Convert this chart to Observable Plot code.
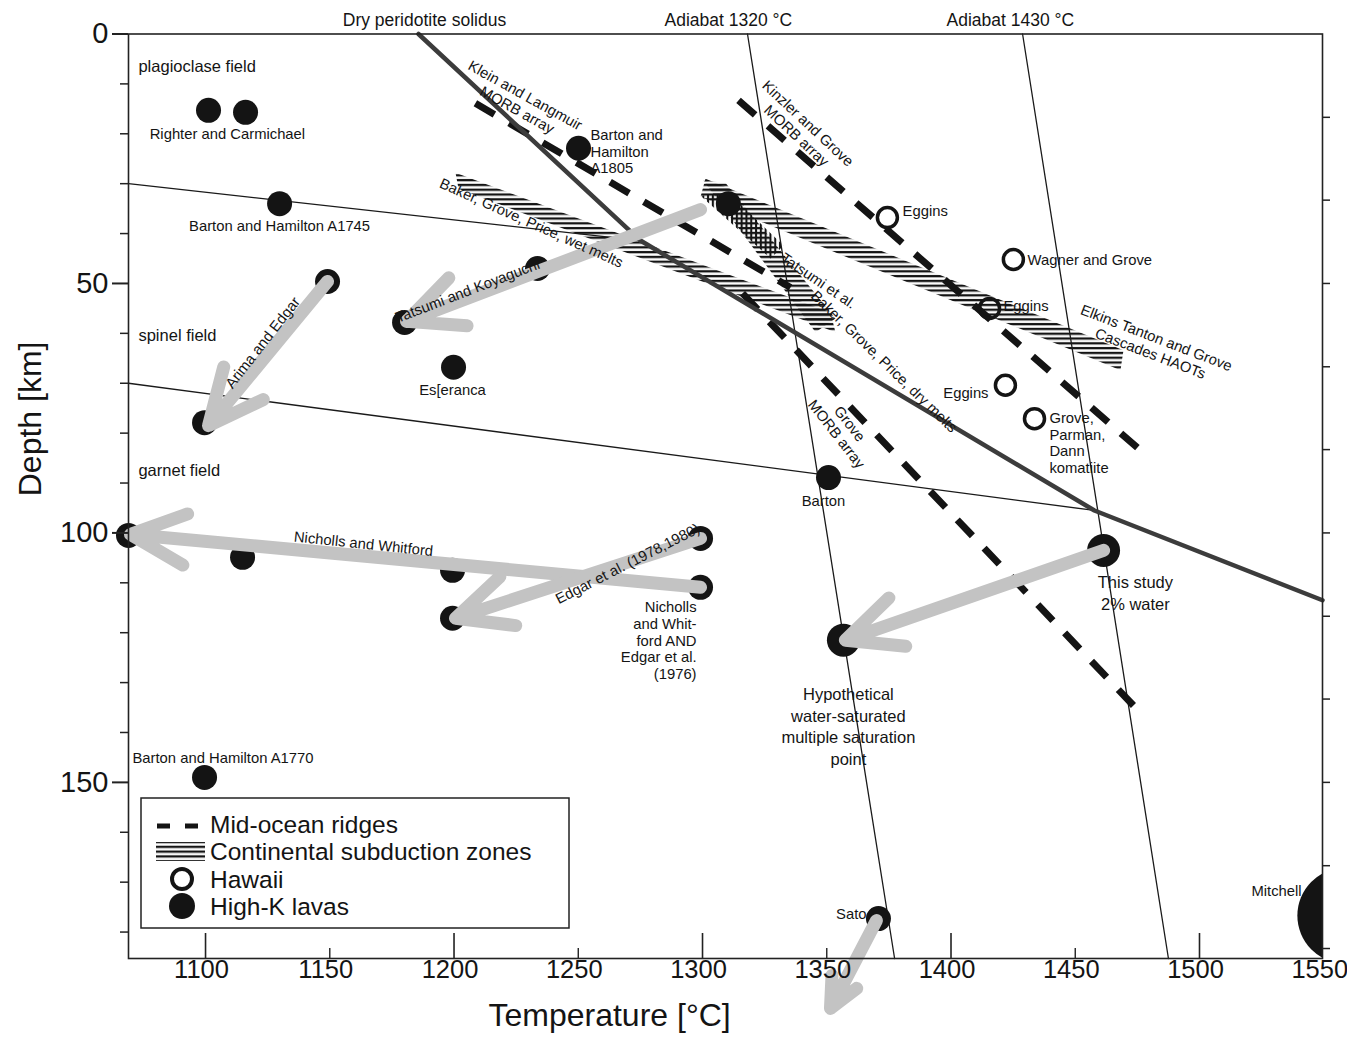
<!DOCTYPE html>
<html><head><meta charset="utf-8">
<script src="https://cdn.jsdelivr.net/npm/d3@7"></script>
<script src="https://cdn.jsdelivr.net/npm/@observablehq/plot@0.6"></script>
<style>body{margin:0;background:#fff} svg{display:block}</style>
</head><body><div id="chart"></div>
<script>
// ---------- DATA (temperature °C, depth km) ----------
const xMajorTicks = [1100, 1200, 1300, 1400, 1500];
const xMinorTicks = [1150, 1250, 1350, 1450];
const xTickLabels = [1100, 1150, 1200, 1250, 1300, 1350, 1400, 1450, 1500, 1550];
const yTickLabels = [0, 50, 100, 150];
const yMinorTicks = [10, 20, 30, 40, 60, 70, 80, 90, 110, 120, 130, 140, 160, 170, 180];
const rightTicks = [16.7, 33.3, 50, 66.7, 83.3, 100, 116.7, 133.3, 150, 166.7, 183.3];

const solidus = [
  {T: 1185.7, D: 0}, {T: 1275.0, D: 41.4}, {T: 1457.7, D: 95.5}, {T: 1549.5, D: 113.5}
];
const thinLines = [
  {id: "plag-spinel", T: 1069.0, D: 30.0}, {id: "plag-spinel", T: 1275.0, D: 41.4},
  {id: "spinel-garnet", T: 1069.0, D: 70.0}, {id: "spinel-garnet", T: 1457.7, D: 95.5},
  {id: "adiabat1320", T: 1318.1, D: 0}, {id: "adiabat1320", T: 1377.3, D: 185.3},
  {id: "adiabat1430", T: 1428.8, D: 0}, {id: "adiabat1430", T: 1487.5, D: 185.3}
];
const morbArrays = [
  {name: "Klein and Langmuir", T1: 1208.6, D1: 13.9, T2: 1335.4, D2: 50.8},
  {name: "Grove", T1: 1316.1, D1: 52.0, T2: 1474.2, D2: 135.0},
  {name: "Kinzler and Grove", T1: 1314.5, D1: 13.3, T2: 1475.0, D2: 82.9}
];
const subductionBands = [
  {band: "wet", T: 1200.6, D: 27.8}, {band: "wet", T: 1351.5, D: 55.8},
  {band: "wet", T: 1353.5, D: 59.8}, {band: "wet", T: 1201.8, D: 31.0},
  {band: "elkins", T: 1301.2, D: 29.0}, {band: "elkins", T: 1469.4, D: 63.4},
  {band: "elkins", T: 1468.2, D: 67.4}, {band: "elkins", T: 1299.2, D: 32.6},
  {band: "dry", T: 1300.4, D: 29.4}, {band: "dry", T: 1309.2, D: 29.8},
  {band: "dry", T: 1353.5, D: 57.0}, {band: "dry", T: 1345.5, D: 59.8}
];
const tatsumiCross = [
  {T: 1299.2, D: 32.4}, {T: 1310.4, D: 31.8}, {T: 1332.6, D: 42.4}, {T: 1327.4, D: 45.0}
];
const highK = [
  {T: 1101.2, D: 15.3}, {T: 1116.1, D: 15.7}, {T: 1129.8, D: 34.0}, {T: 1250.1, D: 22.9},
  {T: 1149.1, D: 49.6}, {T: 1099.6, D: 77.9}, {T: 1310.4, D: 34.0}, {T: 1233.6, D: 47.0},
  {T: 1180.1, D: 57.8}, {T: 1199.8, D: 66.8}, {T: 1069.0, D: 100.5}, {T: 1114.9, D: 104.9},
  {T: 1199.4, D: 107.5}, {T: 1299.2, D: 110.9}, {T: 1299.2, D: 101.1}, {T: 1199.4, D: 117.1},
  {T: 1350.7, D: 88.9}, {T: 1099.6, D: 149.0}, {T: 1370.8, D: 177.3}
];
const highKLarge = [{T: 1461.4, D: 103.5}, {T: 1356.7, D: 121.5}];
const mitchell = [{T: 1558.7, D: 176.7}];
const hawaii = [
  {T: 1374.4, D: 36.8}, {T: 1425.1, D: 45.2}, {T: 1415.5, D: 55.0},
  {T: 1421.9, D: 70.4}, {T: 1433.6, D: 77.1}
];
const meltArrows = [
  {name: "Tatsumi and Koyaguchi", T1: 1299.2, D1: 35.2, T2: 1180.9, D2: 57.6},
  {name: "Arima and Edgar", T1: 1149.1, D1: 49.6, T2: 1101.2, D2: 78.5},
  {name: "Nicholls and Whitford", T1: 1299.2, D1: 110.9, T2: 1069.8, D2: 100.3},
  {name: "Edgar et al.", T1: 1299.2, D1: 101.1, T2: 1200.6, D2: 117.1},
  {name: "This study", T1: 1461.4, D1: 103.5, T2: 1357.5, D2: 121.5},
  {name: "Sato", T1: 1370.0, D1: 177.7, T2: 1351.5, D2: 195.3}
];
const topLabels = [
  {T: 1188.1, D: -2.7, label: "Dry peridotite solidus"},
  {T: 1310.4, D: -2.7, label: "Adiabat 1320 °C"},
  {T: 1423.9, D: -2.7, label: "Adiabat 1430 °C"}
];
const fieldLabels = [
  {T: 1073.0, D: 6.5, label: "plagioclase field"},
  {T: 1073.0, D: 60.4, label: "spinel field"},
  {T: 1073.0, D: 87.5, label: "garnet field"}
];
const bigLabels = [
  {T: 1474.2, D: 111.9, label: "This study\n2% water"},
  {T: 1358.7, D: 138.6, label: "Hypothetical\nwater-saturated\nmultiple saturation\npoint"}
];
const smallLabels = [
  {T: 1108.8, D: 19.9, angle: 0, anchor: "middle", label: "Righter and Carmichael"},
  {T: 1129.8, D: 38.4, angle: 0, anchor: "middle", label: "Barton and Hamilton A1745"},
  {T: 1199.4, D: 71.2, angle: 0, anchor: "middle", label: "Es[eranca"},
  {T: 1254.9, D: 23.5, angle: 0, anchor: "start", label: "Barton and\nHamilton\nA1805"},
  {T: 1205.4, D: 51.4, angle: -21, anchor: "middle", label: "Tatsumi and Koyaguchi"},
  {T: 1122.9, D: 61.8, angle: -52, anchor: "middle", label: "Arima and Edgar"},
  {T: 1231.2, D: 37.8, angle: 24, anchor: "middle", label: "Baker, Grove, Price, wet melts"},
  {T: 1227.1, D: 13.7, angle: 29, anchor: "middle", label: "Klein and Langmuir\nMORB array"},
  {T: 1340.2, D: 19.1, angle: 43, anchor: "middle", label: "Kinzler and Grove\nMORB array"},
  {T: 1346.7, D: 49.4, angle: 34, anchor: "middle", label: "Tatsumi et al."},
  {T: 1373.2, D: 65.6, angle: 44, anchor: "middle", label: "Baker, Grove, Price, dry melts"},
  {T: 1356.7, D: 79.1, angle: 52, anchor: "middle", label: "Grove\nMORB array"},
  {T: 1348.7, D: 93.5, angle: 0, anchor: "middle", label: "Barton"},
  {T: 1380.5, D: 35.4, angle: 0, anchor: "start", label: "Eggins"},
  {T: 1430.8, D: 45.2, angle: 0, anchor: "start", label: "Wagner and Grove"},
  {T: 1421.1, D: 54.4, angle: 0, anchor: "start", label: "Eggins"},
  {T: 1415.1, D: 71.8, angle: 0, anchor: "end", label: "Eggins"},
  {T: 1439.6, D: 81.9, angle: 0, anchor: "start", label: "Grove,\nParman,\nDann\nkomatiite"},
  {T: 1481.5, D: 62.4, angle: 21, anchor: "middle", label: "Elkins Tanton and Grove\nCascades HAOTs"},
  {T: 1163.6, D: 102.1, angle: 6, anchor: "middle", label: "Nicholls and Whitford"},
  {T: 1269.8, D: 106.1, angle: -27, anchor: "middle", label: "Edgar et al. (1978,1980)"},
  {T: 1297.6, D: 121.5, angle: 0, anchor: "end", label: "Nicholls\nand Whit-\nford AND\nEdgar et al.\n(1976)"},
  {T: 1070.6, D: 145.0, angle: 0, anchor: "start", label: "Barton and Hamilton A1770"},
  {T: 1366.0, D: 176.3, angle: 0, anchor: "end", label: "Sato"},
  {T: 1520.9, D: 171.6, angle: 0, anchor: "start", label: "Mitchell"}
];
const legendItems = ["Mid-ocean ridges", "Continental subduction zones", "Hawaii", "High-K lavas"];

// ---------- LAYOUT ----------
const W = 1347, H = 1057, ML = 128, MR = 25, MT = 33.5, MB = 99;
const PW = W - ML - MR, PH = H - MT - MB;
const INK = "#141414";
const HATCH = "#fe0001", CROSS = "#fe0002";

const smallText = (anchor) => Plot.text(smallLabels.filter(d => d.anchor === anchor), {
  x: "T", y: "D", text: "label", rotate: "angle", textAnchor: anchor,
  fontSize: 14.8, lineHeight: 1.13, fill: INK
});

const chart = Plot.plot({
  width: W, height: H,
  marginLeft: ML, marginRight: MR, marginTop: MT, marginBottom: MB,
  style: {fontFamily: "'Liberation Sans', Arial, sans-serif", background: "white", color: INK, overflow: "visible"},
  x: {domain: [1069, 1549.5], axis: null},
  y: {domain: [0, 185.3], reverse: true, axis: null},
  marks: [
    Plot.line(subductionBands, {x: "T", y: "D", z: "band", fill: HATCH, stroke: "none"}),
    Plot.line(tatsumiCross, {x: "T", y: "D", fill: CROSS, stroke: "none"}),
    Plot.line(thinLines, {x: "T", y: "D", z: "id", stroke: "#1a1a1a", strokeWidth: 1.3}),
    Plot.link(morbArrays, {x1: "T1", y1: "D1", x2: "T2", y2: "D2", stroke: INK, strokeWidth: 7, strokeDasharray: "22,17"}),
    Plot.line(solidus, {x: "T", y: "D", stroke: "#3c3c3c", strokeWidth: 4.5}),
    Plot.dot(highK, {x: "T", y: "D", r: 12.5, fill: INK}),
    Plot.dot(highKLarge, {x: "T", y: "D", r: 16.5, fill: INK}),
    Plot.dot(mitchell, {x: "T", y: "D", r: 48, fill: INK, clip: true}),
    Plot.arrow(meltArrows, {x1: "T1", y1: "D1", x2: "T2", y2: "D2", stroke: "#c3c3c3", strokeWidth: 13, headLength: 7, headAngle: 50}),
    Plot.dot(hawaii, {x: "T", y: "D", r: 10, fill: "none", stroke: INK, strokeWidth: 3.5}),
    smallText("middle"), smallText("start"), smallText("end"),
    Plot.text(fieldLabels, {x: "T", y: "D", text: "label", textAnchor: "start", fontSize: 16.5, fill: INK}),
    Plot.text(bigLabels, {x: "T", y: "D", text: "label", fontSize: 16.5, lineHeight: 1.3, fill: INK}),
    Plot.text(topLabels, {x: "T", y: "D", text: "label", fontSize: 17.5, fill: INK}),
    // axes
    Plot.frame({stroke: "#222", strokeWidth: 1.6}),
    Plot.ruleY(yTickLabels, {y: d => d, insetLeft: -16, insetRight: PW, stroke: "#222", strokeWidth: 2}),
    Plot.ruleY(yMinorTicks, {y: d => d, insetLeft: -8, insetRight: PW, stroke: "#222", strokeWidth: 1.5}),
    Plot.ruleY(rightTicks, {y: d => d, insetLeft: PW, insetRight: -8, stroke: "#222", strokeWidth: 1.5}),
    Plot.ruleX(xMajorTicks, {x: d => d, insetTop: PH - 25, stroke: "#222", strokeWidth: 1.6}),
    Plot.ruleX(xMinorTicks, {x: d => d, insetTop: PH - 10, stroke: "#222", strokeWidth: 1.4}),
    Plot.text(yTickLabels, {y: d => d, text: d => String(d), frameAnchor: "left", dx: -20, textAnchor: "end", fontSize: 29, fill: INK}),
    Plot.text(xTickLabels, {x: d => d, text: d => String(d), frameAnchor: "bottom", dx: -4, dy: 19, fontSize: 25.5, fill: INK}),
    Plot.text(["Depth [km]"], {frameAnchor: "left", dx: -98, rotate: -90, fontSize: 32, fill: INK}),
    Plot.text(["Temperature [°C]"], {x: () => 1262.6, frameAnchor: "bottom", dy: 67, fontSize: 32, fill: INK})
  ]
});

document.getElementById("chart").appendChild(chart);

// ---------- patterns & legend ----------
const svg = d3.select(chart);
const defs = svg.insert("defs", ":first-child");
const ph = defs.append("pattern").attr("id", "hatchH").attr("patternUnits", "userSpaceOnUse")
  .attr("width", 8).attr("height", 4.8);
ph.append("rect").attr("x", 0).attr("y", 0.9).attr("width", 8).attr("height", 2.3).attr("fill", INK);
const pv = defs.append("pattern").attr("id", "hatchV").attr("patternUnits", "userSpaceOnUse")
  .attr("width", 4.8).attr("height", 8);
pv.append("rect").attr("x", 0.9).attr("y", 0).attr("width", 2.1).attr("height", 8).attr("fill", INK);
svg.selectAll(`[fill="${HATCH}"]`).attr("fill", "url(#hatchH)");
svg.selectAll(`[fill="${CROSS}"]`).attr("fill", "url(#hatchV)");

const lg = svg.append("g").attr("font-family", "'Liberation Sans', Arial, sans-serif")
  .attr("fill", INK).attr("text-anchor", "start");
lg.append("rect").attr("x", 141).attr("y", 798).attr("width", 428).attr("height", 130)
  .attr("fill", "white").attr("stroke", "#222").attr("stroke-width", 1.5);
lg.append("line").attr("x1", 157).attr("x2", 198).attr("y1", 826).attr("y2", 826)
  .attr("stroke", INK).attr("stroke-width", 5).attr("stroke-dasharray", "13,15");
lg.append("rect").attr("x", 156).attr("y", 842).attr("width", 49).attr("height", 19).attr("fill", "url(#hatchH)");
lg.append("circle").attr("cx", 182).attr("cy", 879).attr("r", 10).attr("fill", "white").attr("stroke", INK).attr("stroke-width", 4);
lg.append("circle").attr("cx", 182).attr("cy", 906).attr("r", 13).attr("fill", INK);
const baselines = [833, 860, 888, 915];
legendItems.forEach((t, i) => {
  lg.append("text").attr("x", 210).attr("y", baselines[i]).attr("font-size", 24.5)
    .attr("text-anchor", "start").text(t);
});
</script>
</body></html>
